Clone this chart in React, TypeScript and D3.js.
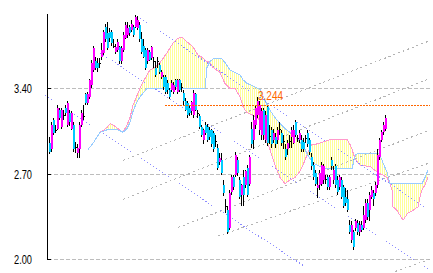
import React from 'react';
import * as d3 from 'd3';

const W = 433;
const H = 273;

// OHLC per bar: [open, high, low, close]
const candles: [number, number, number, number][] = [
[2.95,3.00,2.86,2.88],[2.90,3.12,2.88,3.10],[3.14,3.16,3.02,3.03],[3.06,3.10,3.03,3.06],[3.07,3.26,3.06,3.24],
[3.22,3.24,3.14,3.16],[3.08,3.24,3.07,3.22],[3.18,3.22,3.14,3.18],[3.24,3.26,3.17,3.20],[3.10,3.30,3.08,3.28],
[3.20,3.22,3.09,3.12],[3.07,3.21,3.06,3.20],[3.10,3.12,2.88,2.90],[2.92,2.96,2.87,2.92],[2.87,2.94,2.83,2.91],
[2.90,3.12,2.83,3.10],[3.10,3.22,3.08,3.20],[3.17,3.26,3.14,3.17],[3.35,3.36,3.26,3.28],[3.28,3.37,3.26,3.35],
[3.33,3.48,3.31,3.47],[3.43,3.63,3.40,3.61],[3.55,3.75,3.53,3.73],[3.62,3.66,3.55,3.57],[3.61,3.65,3.53,3.57],
[3.61,3.65,3.57,3.61],[3.66,3.77,3.63,3.71],[3.69,3.88,3.67,3.86],[3.90,3.93,3.78,3.80],[3.85,3.94,3.71,3.73],
[3.86,3.89,3.78,3.81],[3.86,3.88,3.75,3.77],[3.75,3.80,3.73,3.75],[3.70,3.76,3.68,3.74],[3.71,3.80,3.70,3.78],
[3.74,3.75,3.60,3.62],[3.62,3.75,3.60,3.73],[3.71,3.86,3.70,3.84],[3.81,3.94,3.80,3.92],[3.84,3.94,3.81,3.89],
[3.90,3.92,3.83,3.85],[3.88,3.96,3.86,3.93],[3.90,3.92,3.82,3.84],[3.90,4.00,3.89,3.98],[3.89,3.99,3.88,3.96],
[3.92,3.94,3.78,3.80],[3.80,3.86,3.68,3.70],[3.75,3.80,3.65,3.66],[3.71,3.73,3.55,3.57],[3.62,3.73,3.60,3.71],
[3.70,3.71,3.62,3.63],[3.65,3.75,3.63,3.74],[3.62,3.66,3.57,3.62],[3.57,3.62,3.49,3.51],[3.62,3.66,3.57,3.62],
[3.59,3.61,3.52,3.53],[3.49,3.55,3.48,3.53],[3.49,3.51,3.39,3.41],[3.49,3.51,3.35,3.37],[3.44,3.47,3.35,3.39],
[3.39,3.40,3.31,3.33],[3.39,3.47,3.37,3.44],[3.37,3.45,3.35,3.43],[3.47,3.48,3.39,3.41],[3.37,3.48,3.35,3.47],
[3.47,3.48,3.37,3.39],[3.41,3.44,3.37,3.41],[3.36,3.39,3.26,3.30],[3.30,3.32,3.21,3.22],[3.28,3.30,3.16,3.18],
[3.24,3.26,3.17,3.20],[3.21,3.30,3.18,3.29],[3.18,3.39,3.16,3.36],[3.35,3.36,3.21,3.22],[3.20,3.22,3.16,3.20],
[3.17,3.19,3.07,3.08],[3.08,3.10,3.00,3.02],[2.98,3.07,2.94,3.06],[3.10,3.12,3.02,3.03],[3.08,3.11,2.96,2.98],
[3.06,3.08,2.98,3.00],[3.06,3.07,2.92,2.94],[3.03,3.05,2.88,2.90],[2.97,3.02,2.92,2.97],[2.91,2.94,2.73,2.75],
[2.80,2.87,2.77,2.83],[2.81,2.87,2.69,2.71],[2.61,2.65,2.52,2.54],[2.44,2.49,2.38,2.44],[2.40,2.44,2.21,2.22],
[2.26,2.57,2.24,2.54],[2.55,2.69,2.53,2.67],[2.67,2.69,2.57,2.59],[2.69,2.88,2.67,2.85],[2.81,2.84,2.68,2.71],
[2.65,2.67,2.49,2.51],[2.53,2.62,2.44,2.61],[2.67,2.73,2.44,2.53],[2.61,2.73,2.58,2.72],[2.75,2.77,2.51,2.53],
[2.62,2.85,2.60,2.84],[3.07,3.12,2.91,2.94],[2.98,3.18,2.90,3.14],[3.10,3.26,3.07,3.24],[3.18,3.33,3.16,3.30],
[3.06,3.30,3.02,3.26],[3.02,3.24,2.98,3.21],[3.22,3.24,2.98,3.02],[2.98,3.21,2.95,3.18],[3.25,3.26,2.93,2.95],
[3.01,3.10,2.94,3.01],[3.06,3.08,2.91,2.94],[2.98,3.07,2.95,3.03],[3.00,3.03,2.91,2.94],[2.98,3.08,2.94,3.06],
[3.07,3.12,3.02,3.07],[3.03,3.06,2.93,2.95],[2.97,3.02,2.90,2.97],[2.90,2.94,2.81,2.84],[2.90,2.98,2.85,2.95],
[2.97,3.02,2.91,2.97],[3.00,3.08,2.91,3.06],[2.95,3.10,2.94,3.06],[3.12,3.14,3.00,3.02],[2.99,3.02,2.96,2.99],
[2.98,3.06,2.95,3.03],[2.98,3.02,2.88,2.90],[2.96,2.99,2.88,2.90],[2.99,3.02,2.95,2.99],[3.03,3.06,2.92,2.94],
[2.98,2.99,2.85,2.88],[2.84,2.87,2.73,2.76],[2.77,2.80,2.65,2.67],[2.71,2.73,2.60,2.62],[2.58,2.67,2.50,2.61],
[2.61,2.73,2.57,2.71],[2.62,2.80,2.60,2.77],[2.65,2.78,2.62,2.76],[2.66,2.69,2.62,2.66],[2.67,2.69,2.57,2.59],
[2.59,2.69,2.57,2.67],[2.81,2.84,2.73,2.76],[2.65,2.76,2.62,2.73],[2.76,2.78,2.58,2.61],[2.65,2.68,2.53,2.55],
[2.59,2.69,2.57,2.67],[2.65,2.67,2.49,2.51],[2.59,2.61,2.42,2.44],[2.51,2.58,2.44,2.46],[2.49,2.57,2.39,2.40],
[2.28,2.32,2.21,2.22],[2.16,2.31,2.13,2.28],[2.22,2.24,2.08,2.10],[2.26,2.33,2.23,2.31],[2.30,2.32,2.20,2.22],
[2.22,2.31,2.19,2.28],[2.28,2.31,2.22,2.24],[2.26,2.44,2.24,2.36],[2.32,2.49,2.30,2.46],[2.46,2.49,2.32,2.35],
[2.40,2.55,2.31,2.53],[2.51,2.60,2.49,2.57],[2.54,2.57,2.44,2.49],[2.54,2.63,2.52,2.61],[2.61,2.90,2.58,2.85],
[2.84,2.99,2.81,2.98],[2.98,3.06,2.96,3.04],[3.04,3.12,3.02,3.10],[3.07,3.18,3.05,3.16],
];

// Ichimoku cloud spans, sampled at bar index positions
const cloudIdx = [19.5,22,25.5,27.5,29,30.5,32,34.5,37,39,40.5,42,44,45.5,47,49,50.5,53,55.5,59,62,64.5,66.5,69,72,74.5,77,78,79,80.5,82,85.5,86.5,88,90.5,93,95.5,97,99,102,105.5,108,110.5,113,115.5,118,120.5,123,125.5,128,129.5,131.5,133,137,140.5,142,149,150.5,151.5,152.5,153.5,155.5,160.5,164.5,165.5,167,169,170.5,171.5,172,174,177,179.5,182,184.5,185.5,186.5,188,189.5];
const spanPink = [2.90,2.95,3.04,3.06,3.08,3.11,3.10,3.07,3.04,3.10,3.16,3.26,3.34,3.40,3.45,3.51,3.55,3.57,3.61,3.69,3.77,3.81,3.82,3.78,3.74,3.67,3.65,3.63,3.62,3.61,3.57,3.53,3.49,3.44,3.40,3.40,3.33,3.25,3.20,3.18,3.14,2.99,2.90,2.77,2.67,2.62,2.65,2.67,2.72,2.81,2.88,2.94,2.94,2.96,2.98,2.98,2.98,2.94,2.90,2.85,2.81,2.77,2.76,2.71,2.70,2.69,2.67,2.62,2.57,2.43,2.40,2.32,2.38,2.40,2.43,2.51,2.57,2.61,2.67];
const spanBlue = [2.90,2.95,3.04,3.05,3.06,3.06,3.06,3.06,3.04,3.07,3.12,3.21,3.29,3.33,3.36,3.40,3.40,3.40,3.40,3.40,3.40,3.40,3.40,3.40,3.40,3.40,3.40,3.40,3.57,3.62,3.64,3.64,3.64,3.61,3.55,3.53,3.51,3.47,3.44,3.42,3.39,3.30,3.22,3.16,3.11,3.07,3.04,3.01,2.96,2.90,2.85,2.80,2.78,2.75,2.74,2.74,2.74,2.74,2.74,2.81,2.86,2.87,2.87,2.87,2.85,2.79,2.715,2.62,2.62,2.62,2.62,2.62,2.62,2.62,2.62,2.62,2.62,2.67,2.73];

// trend lines [startIndex, startValue, endIndex, endValue]
const purpleLines: [number, number, number, number][] = [
  [44, 3.99, 190.5, 2.40],
  [-2, 3.345, 128, 1.94],
  [25.5, 3.69, 190.5, 1.91],
];
const grayLines: [number, number, number, number][] = [
  [37, 2.81, 190.5, 3.79],
  [37, 2.49, 190.5, 3.48],
  [64.5, 2.26, 190.5, 3.06],
  [84.5, 2.19, 190.5, 2.79],
  [173, 1.90, 190.5, 2.00],
];

const yTickValues = [3.4, 2.7, 2.0];
const yTickLabels = ['3.40', '2.70', '2.00'];

const levelValue = 3.266;
const levelStartIdx = 58;
const levelLabel = '3.244';

export default function App() {
  const x = d3.scaleLinear().domain([0, 190.5]).range([49, 430]);
  const y = d3.scaleLinear().domain([2, 4]).range([259.3, 15]);

  const area = d3.area<number>()
    .x((d) => x(d))
    .y0((_, k) => y(spanBlue[k]))
    .y1((_, k) => y(spanPink[k]));
  const pinkLine = d3.line<number>().x((d) => x(d)).y((_, k) => y(spanPink[k]));
  const blueLine = d3.line<number>().x((d) => x(d)).y((_, k) => y(spanBlue[k]));

  const cloudLeft = Math.floor(x(cloudIdx[0]));
  const cloudRight = Math.ceil(x(cloudIdx[cloudIdx.length - 1]));
  const stripeCols = d3.range(cloudLeft, cloudRight + 1, 2);

  const ly = Math.round(y(levelValue));
  const levelDots = d3.range(Math.round(x(levelStartIdx)), 430, 3);

  return (
    <svg width={W} height={H} style={{ position: 'absolute', left: 0, top: 0, background: '#fff' }}>
      <defs>
        <clipPath id="plot">
          <rect x={44} y={0} width={386} height={273} />
        </clipPath>
        <clipPath id="cloudClip">
          <path d={area(cloudIdx) || ''} />
        </clipPath>
      </defs>
      <rect x={0} y={0} width={W} height={H} fill="#fff" />
      {/* grid */}
      {yTickValues.map((v, k) => (
        <g key={'g' + k} shapeRendering="crispEdges">
          <line x1={48} x2={430} y1={Math.round(y(v)) + 0.5} y2={Math.round(y(v)) + 0.5} stroke="#bdbdbd" strokeDasharray="4,2" />
          <line x1={47} x2={51} y1={Math.round(y(v)) + 0.5} y2={Math.round(y(v)) + 0.5} stroke="#000" />
          <text x={32} y={Math.round(y(v)) + 5} textAnchor="end" fontFamily="Liberation Sans, Arial, sans-serif" fontSize={12} textLength={18} lengthAdjust="spacingAndGlyphs" fill="#000">{yTickLabels[k]}</text>
        </g>
      ))}
      <line x1={47.5} x2={47.5} y1={14} y2={Math.round(y(2)) + 1} stroke="#000" shapeRendering="crispEdges" />
      <g clipPath="url(#plot)">
        <g clipPath="url(#cloudClip)">
          {stripeCols.map((px) => (
            <rect key={'s' + px} x={px} y={0} width={1} height={H} fill="#ffff99" shapeRendering="crispEdges" />
          ))}
        </g>
        <path d={pinkLine(cloudIdx) || ''} fill="none" stroke="#ff99cc" shapeRendering="crispEdges" />
        <path d={blueLine(cloudIdx) || ''} fill="none" stroke="#99ccff" shapeRendering="crispEdges" />
        {grayLines.map((l, k) => (
          <line key={'gl' + k} x1={x(l[0])} y1={y(l[1])} x2={x(l[2])} y2={y(l[3])} stroke="#b4b4b4" strokeDasharray="2,3" shapeRendering="crispEdges" />
        ))}
        {purpleLines.map((l, k) => (
          <line key={'pl' + k} x1={x(l[0])} y1={y(l[1])} x2={x(l[2])} y2={y(l[3])} stroke="#8c8cff" strokeDasharray="1,2.5" shapeRendering="crispEdges" />
        ))}
        {candles.map((c, i) => {
          const [o, h, l, cl] = c;
          const left = Math.round(x(i));
          const top = Math.round(y(Math.max(o, cl)));
          const bot = Math.round(y(Math.min(o, cl)));
          const col = cl > o ? '#ff00ff' : cl < o ? '#00ccff' : '#000';
          return (
            <g key={'c' + i} shapeRendering="crispEdges">
              <rect x={left} y={Math.round(y(h))} width={1} height={Math.max(1, Math.round(y(l)) - Math.round(y(h)))} fill="#000" />
              <rect x={left} y={top} width={2} height={Math.max(1, bot - top)} fill={col} />
            </g>
          );
        })}
        {levelDots.map((px) => (
          <rect key={'o' + px} x={px} y={ly} width={2} height={1} fill="#ff6600" shapeRendering="crispEdges" />
        ))}
      </g>
      <text x={258} y={100} fontFamily="Liberation Sans, Arial, sans-serif" fontSize={13} textLength={25} lengthAdjust="spacingAndGlyphs" fill="#ff6600">{levelLabel}</text>
    </svg>
  );
}
